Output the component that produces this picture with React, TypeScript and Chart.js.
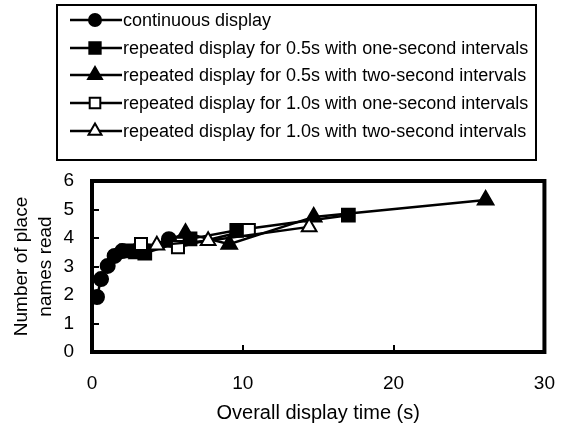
import React, { useEffect, useRef } from "react";
import { Chart, registerables } from "chart.js";
Chart.register(...registerables);

const seriesLabels = [
  "continuous display",
  "repeated display for 0.5s with one-second intervals",
  "repeated display for 0.5s with two-second intervals",
  "repeated display for 1.0s with one-second intervals",
  "repeated display for 1.0s with two-second intervals",
];

const continuousTime = [0.33, 0.6, 1.04, 1.5, 2.0, 3.0, 5.1];
const continuousNames = [1.93, 2.56, 3.02, 3.37, 3.54, 3.56, 3.96];

const half1Time = [2.3, 3.5, 6.5, 9.6, 17.0];
const half1Names = [3.55, 3.47, 3.97, 4.27, 4.8];

const half2Time = [3.0, 6.2, 9.1, 14.7, 26.1];
const half2Names = [3.45, 4.17, 3.78, 4.74, 5.33];

const one1Time = [3.25, 5.7, 10.4];
const one1Names = [3.79, 3.68, 4.28];

const one2Time = [4.3, 7.7, 14.4];
const one2Names = [3.75, 3.9, 4.39];

const xTicks = [0, 10, 20, 30];
const yTicks = [0, 1, 2, 3, 4, 5, 6];

const FONT = "'Liberation Sans', Arial, sans-serif";

const styles = [
  { pointStyle: "circle", radius: 7, fill: "#000" },
  { pointStyle: "rect", radius: 9, fill: "#000" },
  { pointStyle: "triangle", radius: 9, fill: "#000" },
  { pointStyle: "rect", radius: 8.5, fill: "#fff" },
  { pointStyle: "triangle", radius: 8.5, fill: "#fff" },
];

function pts(xs: number[], ys: number[]) {
  return xs.map((x, i) => ({ x, y: ys[i] }));
}

function drawMarker(ctx: CanvasRenderingContext2D, style: string, r: number, x: number, y: number, fill: string) {
  ctx.beginPath();
  if (style === "circle") {
    ctx.arc(x, y, r, 0, Math.PI * 2);
  } else if (style === "rect") {
    const s = r / Math.SQRT2;
    ctx.rect(x - s, y - s, 2 * s, 2 * s);
  } else {
    const a = r;
    ctx.moveTo(x, y - a);
    ctx.lineTo(x + a * Math.sin(Math.PI / 3), y + a * 0.5);
    ctx.lineTo(x - a * Math.sin(Math.PI / 3), y + a * 0.5);
    ctx.closePath();
  }
  ctx.fillStyle = fill;
  ctx.fill();
  ctx.strokeStyle = "#000";
  ctx.lineWidth = 2;
  ctx.stroke();
}

const frameAndLegend = {
  id: "frameAndLegend",
  afterDraw(chart: any) {
    const { ctx, chartArea, scales } = chart;
    ctx.save();
    ctx.strokeStyle = "#000";
    ctx.lineWidth = 2;
    ctx.beginPath();
    for (const v of yTicks) {
      if (v === 0 || v === 6) continue;
      const y = Math.round(scales.y.getPixelForValue(v));
      ctx.moveTo(chartArea.left, y);
      ctx.lineTo(chartArea.left + 7, y);
    }
    for (const v of xTicks) {
      if (v === 0 || v === 30) continue;
      const x = Math.round(scales.x.getPixelForValue(v));
      ctx.moveTo(x, chartArea.bottom);
      ctx.lineTo(x, chartArea.bottom - 7);
    }
    ctx.stroke();
    ctx.lineWidth = 4;
    ctx.strokeRect(
      chartArea.left,
      chartArea.top,
      chartArea.right - chartArea.left,
      chartArea.bottom - chartArea.top
    );
    ctx.lineWidth = 2;
    ctx.strokeRect(57, 5, 479, 155);
    const rows = [20, 48, 75, 103, 131];
    ctx.font = `18px ${FONT}`;
    ctx.textBaseline = "middle";
    rows.forEach((ry, i) => {
      ctx.lineWidth = 2.5;
      ctx.strokeStyle = "#000";
      ctx.beginPath();
      ctx.moveTo(70, ry);
      ctx.lineTo(122, ry);
      ctx.stroke();
      const s = styles[i];
      drawMarker(ctx, s.pointStyle, s.radius - 1, 95, ry, s.fill);
      ctx.fillStyle = "#000";
      ctx.fillText(seriesLabels[i], 123, ry + 1);
    });
    ctx.restore();
  },
};

export default function App() {
  const ref = useRef<HTMLCanvasElement>(null);
  useEffect(() => {
    document.body.style.margin = "0";
    const data = [
      pts(continuousTime, continuousNames),
      pts(half1Time, half1Names),
      pts(half2Time, half2Names),
      pts(one1Time, one1Names),
      pts(one2Time, one2Names),
    ];
    const datasets = data.map((d, i) => ({
      label: seriesLabels[i],
      data: d,
      showLine: true,
      borderColor: "#000",
      borderWidth: 2.5,
      pointStyle: styles[i].pointStyle as any,
      pointRadius: styles[i].radius,
      pointBackgroundColor: styles[i].fill,
      pointBorderColor: "#000",
      pointBorderWidth: 2,
      tension: 0,
    }));
    const chart = new Chart(ref.current!, {
      type: "scatter",
      data: { datasets: datasets.slice().reverse() as any },
      options: {
        responsive: false,
        animation: false,
        layout: { padding: { top: 181, right: 14, left: 0, bottom: 0 } },
        plugins: { legend: { display: false }, tooltip: { enabled: false } },
        scales: {
          x: {
            type: "linear",
            min: 0,
            max: 30,
            afterBuildTicks: (s: any) => {
              s.ticks = xTicks.map((v) => ({ value: v }));
            },
            afterFit: (s: any) => {
              s.height = 78;
            },
            ticks: { color: "#000", font: { family: FONT, size: 19 }, padding: 12 },
            grid: { display: false },
            border: { display: false },
            title: {
              display: true,
              text: "Overall display time (s)",
              color: "#000",
              font: { family: FONT, size: 20 },
              padding: { top: 6, bottom: 5 },
            },
          },
          y: {
            type: "linear",
            min: 0,
            max: 6,
            afterBuildTicks: (s: any) => {
              s.ticks = yTicks.map((v) => ({ value: v }));
            },
            afterFit: (s: any) => {
              s.width = 92;
            },
            ticks: { color: "#000", font: { family: FONT, size: 19 }, padding: 10 },
            grid: { display: false },
            border: { display: false },
            title: {
              display: true,
              text: ["Number of place", "names read"],
              color: "#000",
              font: { family: FONT, size: 19, lineHeight: 1.25 },
              padding: { top: 10, bottom: 0 },
            },
          },
        },
      },
      plugins: [frameAndLegend],
    });
    return () => chart.destroy();
  }, []);
  return (
    <div style={{ width: 567, height: 430, position: "absolute", left: 0, top: 0, background: "#fff" }}>
      <canvas ref={ref} width={567} height={430} />
    </div>
  );
}
